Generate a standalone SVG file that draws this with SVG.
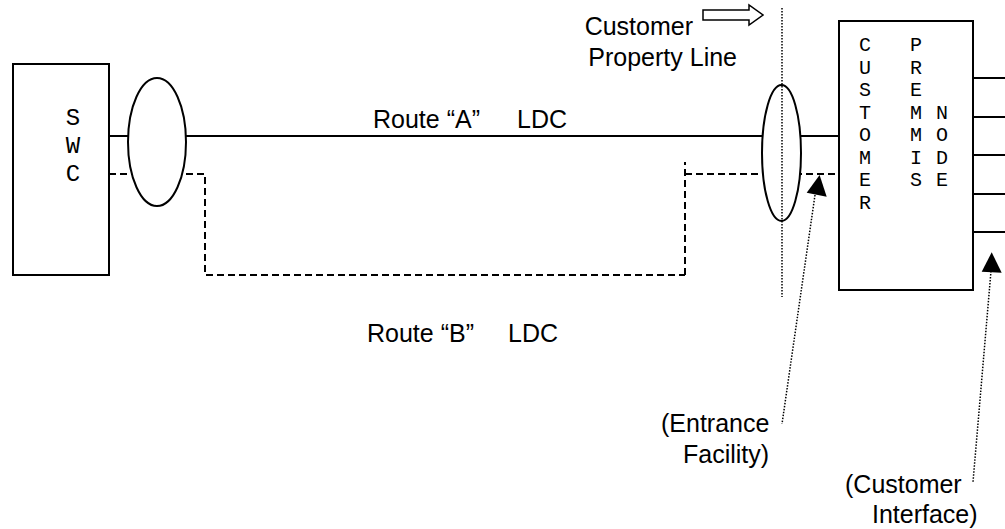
<svg xmlns="http://www.w3.org/2000/svg" width="1005" height="529" viewBox="0 0 1005 529">
<style>
.box{fill:#fff;stroke:#000;stroke-width:2}
.ell{fill:#fff;stroke:#000;stroke-width:2}
.solid{fill:none;stroke:#000;stroke-width:2}
.dash{fill:none;stroke:#000;stroke-width:2;stroke-dasharray:7 4}
.dot{fill:none;stroke:#000;stroke-width:1.5;stroke-dasharray:1.5 1.5}
.lbl{font-family:"Liberation Sans",Arial,sans-serif;font-size:25px;fill:#000}
.mono{font-family:"Liberation Mono","Courier New",monospace;fill:#000;text-anchor:middle}
</style>
<rect width="1005" height="529" fill="#fff"/>
<g id="connectors">
<path class="solid" d="M109,136 H839"/>
<path class="dash" d="M109,174 H205 V275 H685"/>
<path class="dash" d="M685,275 V162"/>
<path class="dash" d="M685,174 H839"/>
<path class="solid" d="M973,78 H1005 M973,117 H1005 M973,155 H1005 M973,194 H1005 M973,232 H1005"/>
<path class="dot" d="M815,195 L782,424"/>
<path class="dot" d="M991,271 L973,482"/>
<polygon points="819.6,175 806.7,192.7 826.7,196.7" fill="#000"/>
<polygon points="991.7,252.3 981.7,271.7 1001.7,272.7" fill="#000"/>
</g>
<g id="swc">
<rect class="box" x="13" y="64" width="96" height="211"/>
<text class="mono" font-size="24"><tspan x="73" y="125">S</tspan><tspan x="73" y="153">W</tspan><tspan x="73" y="181">C</tspan></text>
</g>
<g id="ellipse-swc">
<ellipse class="ell" cx="157" cy="142" rx="29" ry="64"/>
</g>
<g id="ellipse-entrance">
<ellipse class="ell" cx="781.5" cy="153" rx="19.5" ry="68"/>
</g>
<g id="customer-premises-node">
<rect class="box" x="839" y="21" width="134" height="269"/>
<text class="mono" font-size="20"><tspan x="865" y="51">C</tspan><tspan x="865" y="73.5">U</tspan><tspan x="865" y="96">S</tspan><tspan x="865" y="118.5">T</tspan><tspan x="865" y="141">O</tspan><tspan x="865" y="163.5">M</tspan><tspan x="865" y="186">E</tspan><tspan x="865" y="208.5">R</tspan></text>
<text class="mono" font-size="20"><tspan x="916" y="51">P</tspan><tspan x="916" y="73.5">R</tspan><tspan x="916" y="96">E</tspan><tspan x="916" y="118.5">M</tspan><tspan x="916" y="141">M</tspan><tspan x="916" y="163.5">I</tspan><tspan x="916" y="186">S</tspan></text>
<text class="mono" font-size="20"><tspan x="942" y="118.5">N</tspan><tspan x="942" y="141">O</tspan><tspan x="942" y="163.5">D</tspan><tspan x="942" y="186">E</tspan></text>
</g>
<g id="property-line">
<path class="dot" d="M782,8 V297"/>
<polygon points="703,10 749,10 749,5 763,15 749,25 749,20 703,20" fill="#fff" stroke="#000" stroke-width="1.5"/>
<text class="lbl" text-anchor="end"><tspan x="693" y="35">Customer</tspan><tspan x="737" y="66">Property Line</tspan></text>
</g>
<g id="labels">
<text class="lbl" y="128"><tspan x="373">Route “A”</tspan><tspan x="517">LDC</tspan></text>
<text class="lbl" y="342"><tspan x="367">Route “B”</tspan><tspan x="508">LDC</tspan></text>
<text class="lbl"><tspan x="661" y="432">(Entrance</tspan><tspan x="683" y="463">Facility)</tspan></text>
<text class="lbl"><tspan x="845" y="493">(Customer</tspan><tspan x="872" y="523">Interface)</tspan></text>
</g>
</svg>
